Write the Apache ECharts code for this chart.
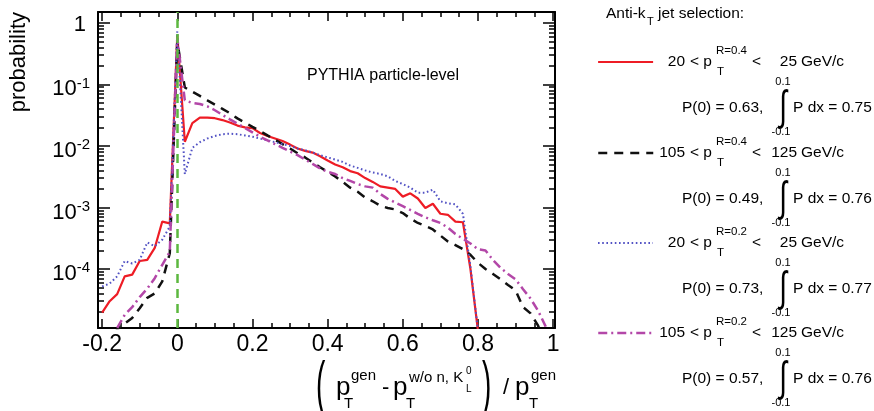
<!DOCTYPE html>
<html>
<head>
<meta charset="utf-8">
<script src="https://cdn.jsdelivr.net/npm/echarts@6/dist/echarts.min.js"></script>
<style>
  html, body { margin: 0; padding: 0; background: #fff; }
  #chart { width: 874px; height: 411px; }
</style>
</head>
<body>
<div id="chart"></div>
<script>
// bin centres of (pT_gen - pT_w/o n,KL0) / pT_gen
var xBins = [-0.2, -0.18, -0.16, -0.14, -0.12, -0.1, -0.08, -0.06, -0.04, -0.02,
  0,
  0.02, 0.04, 0.06, 0.08, 0.1, 0.12, 0.14, 0.16, 0.18, 0.2,
  0.22, 0.24, 0.26, 0.28, 0.3, 0.32, 0.34, 0.36, 0.38, 0.4,
  0.42, 0.44, 0.46, 0.48, 0.5, 0.52, 0.54, 0.56, 0.58, 0.6,
  0.62, 0.64, 0.66, 0.68, 0.7, 0.72, 0.74, 0.76, 0.78, 0.8,
  0.82, 0.84, 0.86, 0.88, 0.9, 0.92, 0.94, 0.96, 0.98, 1.0];

// R=0.4, 20-25 GeV/c
var r04Low = [1.95e-5, 3.0e-5, 3.9e-5, 7.6e-5, 8.1e-5, 1.35e-4, 1.41e-4, 2.2e-4, 5.9e-4, 5.5e-4,
  0.63,
  0.0117, 0.0234, 0.0288, 0.0288, 0.0282, 0.0263, 0.024, 0.0214, 0.020, 0.0195,
  0.0162, 0.0145, 0.0132, 0.012, 0.0105, 0.0091, 0.0083, 0.0078, 0.0068, 0.0058,
  0.0050, 0.0045, 0.0039, 0.0036, 0.0030, 0.0026, 0.0022, 0.0021, 0.0020, 0.0015,
  0.0017, 0.0014, 9.8e-4, 1.15e-3, 7.9e-4, 7.6e-4, 5.9e-4, 5.75e-4, 1.0e-4, 1.0e-5,
  3e-6, null, null, null, null, null, null, null, null, null];

// R=0.4, 105-125 GeV/c
var r04High = [3e-6, 5e-6, 1.05e-5, 1.3e-5, 1.6e-5, 2.3e-5, 3.4e-5, 4.0e-5, 6.3e-5, 1.8e-4,
  0.49,
  0.089, 0.076, 0.065, 0.055, 0.047, 0.040, 0.034, 0.028, 0.024, 0.0204,
  0.0174, 0.0148, 0.0126, 0.0107, 0.0091, 0.0076, 0.0065, 0.0054, 0.0045, 0.0038,
  0.0032, 0.0026, 0.0021, 0.0018, 0.00145, 0.00126, 0.00107, 9.8e-4, 9.3e-4, 8.1e-4,
  6.6e-4, 5.6e-4, 5.0e-4, 4.4e-4, 3.5e-4, 2.8e-4, 2.45e-4, 2.1e-4, 1.7e-4, 1.26e-4,
  1.0e-4, 8.3e-5, 6.8e-5, 5.5e-5, 4.5e-5, 2.4e-5, 1.9e-5, 1.2e-5, 6e-6, 3e-6];

// R=0.2, 20-25 GeV/c
var r02Low = [5.2e-5, 5.8e-5, 7.6e-5, 1.35e-4, 1.23e-4, 1.41e-4, 2.7e-4, 2.35e-4, 3.0e-4, 4.9e-4,
  0.73,
  0.0035, 0.0093, 0.0115, 0.0132, 0.0145, 0.0155, 0.0158, 0.0155, 0.0148, 0.0141,
  0.0132, 0.0123, 0.0115, 0.0107, 0.0100, 0.0091, 0.0085, 0.0078, 0.0071, 0.0065,
  0.0060, 0.0055, 0.0048, 0.0044, 0.0040, 0.0037, 0.0035, 0.0032, 0.0027, 0.0024,
  0.0021, 0.00174, 0.00174, 0.00195, 0.00126, 0.00117, 0.00112, 7.9e-4, 1.1e-4, 1.0e-5,
  3e-6, null, null, null, null, null, null, null, null, null];

// R=0.2, 105-125 GeV/c
var r02High = [3e-6, 6e-6, 1.1e-5, 1.8e-5, 2.4e-5, 3.5e-5, 4.8e-5, 7.1e-5, 1.17e-4, 1.9e-4,
  0.57,
  0.055, 0.050, 0.048, 0.044, 0.038, 0.032, 0.027, 0.023, 0.0195, 0.0166,
  0.0141, 0.0123, 0.0107, 0.0093, 0.0081, 0.0071, 0.0060, 0.0051, 0.0043, 0.0038,
  0.0035, 0.0030, 0.0027, 0.0024, 0.0022, 0.0021, 0.00166, 0.00138, 0.0012, 0.00105,
  9.1e-4, 7.9e-4, 6.9e-4, 6.2e-4, 5.6e-4, 4.7e-4, 3.7e-4, 3.1e-4, 2.6e-4, 2.1e-4,
  2.0e-4, 1.4e-4, 1.05e-4, 8.3e-5, 6.8e-5, 4.7e-5, 3.3e-5, 2.1e-5, 1.17e-5, 5e-6];

var xMajor = [-0.2, 0, 0.2, 0.4, 0.6, 0.8, 1];
var xMinor = [-0.15, -0.1, -0.05, 0.05, 0.1, 0.15, 0.25, 0.3, 0.35, 0.45, 0.5, 0.55,
  0.65, 0.7, 0.75, 0.85, 0.9, 0.95];
var yMajor = [1e-4, 1e-3, 1e-2, 1e-1, 1];
var yMinor = [2e-5, 3e-5, 4e-5, 5e-5, 6e-5, 7e-5, 8e-5, 9e-5,
  2e-4, 3e-4, 4e-4, 5e-4, 6e-4, 7e-4, 8e-4, 9e-4,
  2e-3, 3e-3, 4e-3, 5e-3, 6e-3, 7e-3, 8e-3, 9e-3,
  2e-2, 3e-2, 4e-2, 5e-2, 6e-2, 7e-2, 8e-2, 9e-2,
  0.2, 0.3, 0.4, 0.5, 0.6, 0.7, 0.8, 0.9];

// legend entries
var ptLow = ['20', '105', '20', '105'];
var ptHigh = ['25', '125', '25', '125'];
var radius = ['R=0.4', 'R=0.4', 'R=0.2', 'R=0.2'];
var p0 = ['0.63', '0.49', '0.73', '0.57'];
var integ = ['0.75', '0.76', '0.77', '0.76'];

var FONT = "'Liberation Sans', Arial, sans-serif";
var X_MIN = -0.211, X_MAX = 1.005, Y_MIN = 1.1e-5, Y_MAX = 1.5;

var chart = echarts.init(document.getElementById('chart'));

function txt(x, y, s, size, align, extra) {
  var el = {
    type: 'text', x: x, y: y, silent: true,
    style: {
      text: s, fontSize: size, fontFamily: FONT, fill: '#000',
      textAlign: align || 'left', align: align || 'left',
      textVerticalAlign: 'middle', verticalAlign: 'middle'
    }
  };
  if (extra) for (var k in extra) el[k] = extra[k];
  return el;
}

function line(name, vals, color, width, dash) {
  return {
    name: name, type: 'line', xAxisIndex: 0, yAxisIndex: 0,
    data: xBins.map(function (x, i) { return [x, vals[i]]; }),
    symbol: 'none', showSymbol: false, connectNulls: false,
    lineStyle: { color: color, width: width, type: dash, cap: 'butt' },
    itemStyle: { color: color },
    emphasis: { disabled: true },
    z: 3
  };
}

function xAxis(grid, pos, ticks, len, showLine, showLabel) {
  return {
    type: 'value', gridIndex: grid, position: pos, min: X_MIN, max: X_MAX,
    axisLine: { show: showLine, onZero: false, lineStyle: { color: '#000', width: 2 } },
    axisTick: { inside: true, length: len, customValues: ticks, lineStyle: { color: '#000', width: 1.5 } },
    axisLabel: {
      show: showLabel, customValues: ticks, margin: 5, color: '#000', fontSize: 23, fontFamily: FONT,
      formatter: function (v) { return Math.abs(v) < 1e-9 ? '0' : String(Math.round(v * 10) / 10); }
    },
    splitLine: { show: false }
  };
}

function yAxis(grid, pos, ticks, len, showLine, showLabel) {
  var rs = { color: '#000', fontFamily: FONT, verticalAlign: 'middle' };
  return {
    type: 'log', logBase: 10, gridIndex: grid, position: pos, min: Y_MIN, max: Y_MAX,
    axisLine: { show: showLine, onZero: false, lineStyle: { color: '#000', width: 2 } },
    axisTick: { inside: true, length: len, customValues: ticks, lineStyle: { color: '#000', width: 1.5 } },
    axisLabel: {
      show: showLabel, customValues: ticks, margin: 8,
      formatter: function (v) {
        var e = Math.round(Math.log10(v));
        return e === 0 ? '{one|1}' : '{b|10}{s|' + e + '}';
      },
      rich: {
        one: Object.assign({ fontSize: 22, padding: [4, 4, 0, 0] }, rs),
        b: Object.assign({ fontSize: 22, padding: [10, 0, 0, 0] }, rs),
        s: Object.assign({ fontSize: 15, padding: [0, 0, 2, 0] }, rs)
      }
    },
    splitLine: { show: false }
  };
}

var names = ['r04low', 'r04high', 'r02low', 'r02high'];
var widths = [2.2, 2.5, 2, 2.5];
var series = [
  line(names[0], r04Low, '#ee1c25', widths[0], 'solid'),
  line(names[1], r04High, '#111111', widths[1], [9, 7]),
  line(names[2], r02Low, '#5252c4', widths[2], [1.6, 2.6]),
  line(names[3], r02High, '#b347a8', widths[3], [9, 4, 2, 4])
];
series[0].markLine = {
  silent: true, symbol: ['none', 'none'], label: { show: false },
  lineStyle: { color: '#5cb83f', width: 2.5, type: [9, 6] },
  data: [{ xAxis: 0 }]
};

var legendY = [62, 153, 243, 333];
var legends = names.map(function (n, i) {
  return {
    data: [n], left: 597, top: legendY[i] - 7, orient: 'vertical', padding: 0,
    itemWidth: 55, itemHeight: 14, selectedMode: false,
    formatter: function () { return ''; },
    itemStyle: { opacity: 0 }, lineStyle: { width: widths[i] }
  };
});

var g = [];
g.push(txt(19, 12, 'probability', 22, 'right', { rotation: Math.PI / 2 }));
g.push(txt(307, 76, 'PYTHIA particle-level', 16, 'left'));

// x-axis title
g.push(txt(316, 387, '(', 28, 'left', { scaleY: 2.2 }));
g.push(txt(336, 388, 'p', 26, 'left'));
g.push(txt(351, 376, 'gen', 15, 'left'));
g.push(txt(344, 404, 'T', 15, 'left'));
g.push(txt(382, 388, '-', 22, 'left'));
g.push(txt(393, 388, 'p', 26, 'left'));
g.push(txt(409, 378, 'w/o n, K', 15, 'left'));
g.push(txt(466, 371, '0', 10, 'left'));
g.push(txt(466, 389, 'L', 10, 'left'));
g.push(txt(406, 404, 'T', 15, 'left'));
g.push(txt(482, 387, ')', 28, 'left', { scaleY: 2.2 }));
g.push(txt(503, 388, '/', 22, 'left'));
g.push(txt(515, 388, 'p', 26, 'left'));
g.push(txt(531, 376, 'gen', 15, 'left'));
g.push(txt(529, 404, 'T', 15, 'left'));

// legend text
g.push(txt(606, 14, 'Anti-k', 15.5, 'left'));
g.push(txt(647, 22, 'T', 11, 'left'));
g.push(txt(658, 14, 'jet selection:', 15.5, 'left'));
legendY.forEach(function (Y, i) {
  g.push(txt(685, Y, ptLow[i], 15.5, 'right'));
  g.push(txt(690, Y, '< p', 15.5, 'left'));
  g.push(txt(716, Y - 11, radius[i], 11.5, 'left'));
  g.push(txt(717, Y + 10, 'T', 11.5, 'left'));
  g.push(txt(752, Y, '<', 15.5, 'left'));
  g.push(txt(797, Y, ptHigh[i], 15.5, 'right'));
  g.push(txt(801, Y, 'GeV/c', 15.5, 'left'));
  g.push(txt(682, Y + 46, 'P(0) = ' + p0[i] + ',', 15.5, 'left'));
  g.push(txt(783, Y + 46, '\u222B', 28, 'center', { scaleY: 1.5 }));
  g.push(txt(783, Y + 20, '0.1', 11, 'center'));
  g.push(txt(781, Y + 70, '-0.1', 11, 'center'));
  g.push(txt(793, Y + 46, 'P dx = ' + integ[i], 15.5, 'left'));
});

chart.setOption({
  animation: false,
  backgroundColor: '#fff',
  grid: [
    { left: 98, right: 319, top: 12, bottom: 83 },
    { left: 98, right: 319, top: 12, bottom: 83 }
  ],
  xAxis: [
    xAxis(0, 'bottom', xMajor, 9, true, true),
    xAxis(0, 'top', xMajor, 9, true, false),
    xAxis(1, 'bottom', xMinor, 5, false, false),
    xAxis(1, 'top', xMinor, 5, false, false)
  ],
  yAxis: [
    yAxis(0, 'left', yMajor, 12, true, true),
    yAxis(0, 'right', yMajor, 12, true, false),
    yAxis(1, 'left', yMinor, 6, false, false),
    yAxis(1, 'right', yMinor, 6, false, false)
  ],
  legend: legends,
  series: series,
  graphic: { elements: g }
});
</script>
</body>
</html>
